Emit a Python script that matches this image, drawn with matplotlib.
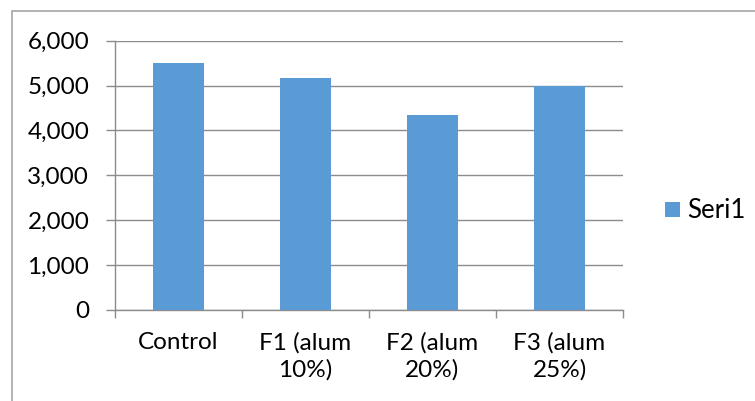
import matplotlib
matplotlib.use("Agg")
import matplotlib.pyplot as plt
from matplotlib.patches import Rectangle
from matplotlib.ticker import FuncFormatter

plt.rcParams["font.family"] = ["Lato", "DejaVu Sans"]

# Data
categories = ["Control", "F1 (alum\n10%)", "F2 (alum\n20%)", "F3 (alum\n25%)"]
values = [5500, 5170, 4340, 5000]
series_name = "Seri1"

BAR_COLOR = "#5B9BD5"
AXIS_GRAY = "#8C8C8C"
FS = 17.5

W, H = 755, 401
fig = plt.figure(figsize=(W / 100, H / 100), dpi=100)

# plot area in pixel terms
left, right, top, bottom = 115, 623, 40.7, 310
ax = fig.add_axes([left / W, 1 - bottom / H, (right - left) / W, (bottom - top) / H])

x = list(range(len(categories)))
ax.bar(x, values, width=0.4, color=BAR_COLOR, zorder=3, label=series_name)

ax.set_xlim(-0.5, len(categories) - 0.5)
ax.set_ylim(0, 6000)
ax.set_yticks(range(0, 6001, 1000))
ax.yaxis.set_major_formatter(FuncFormatter(lambda v, p: f"{int(v):,}"))
ax.grid(axis="y", color=AXIS_GRAY, linewidth=1, zorder=0)

# category labels at bar centres, tick marks at category boundaries
ax.set_xticks(x)
ax.set_xticklabels(categories, fontsize=FS, linespacing=1.3)
ax.set_xticks([i - 0.5 for i in range(len(categories) + 1)], minor=True)
ax.tick_params(axis="x", which="major", length=0, pad=16)
ax.tick_params(axis="x", which="minor", length=6, width=1, color=AXIS_GRAY, direction="out")
ax.tick_params(axis="y", length=6.5, width=1, color=AXIS_GRAY, direction="out",
               labelsize=FS, pad=12)

for side in ["top", "right"]:
    ax.spines[side].set_visible(False)
for side in ["left", "bottom"]:
    ax.spines[side].set_color(AXIS_GRAY)
    ax.spines[side].set_linewidth(1)

ax.legend(loc="center left", bbox_to_anchor=(665 / W, 1 - 211 / H),
          bbox_transform=fig.transFigure, frameon=False, fontsize=18.5,
          handlelength=0.58, handleheight=0.55, handletextpad=0.3,
          borderaxespad=0, borderpad=0)

# chart border (left and top edges visible)
fig.patches.append(Rectangle((12 / W, -0.1), 1.2, (H - 11) / H + 0.1,
                             transform=fig.transFigure, fill=False,
                             edgecolor="#A6A6A6", linewidth=1.2))

fig.savefig("out.png", dpi=100)
